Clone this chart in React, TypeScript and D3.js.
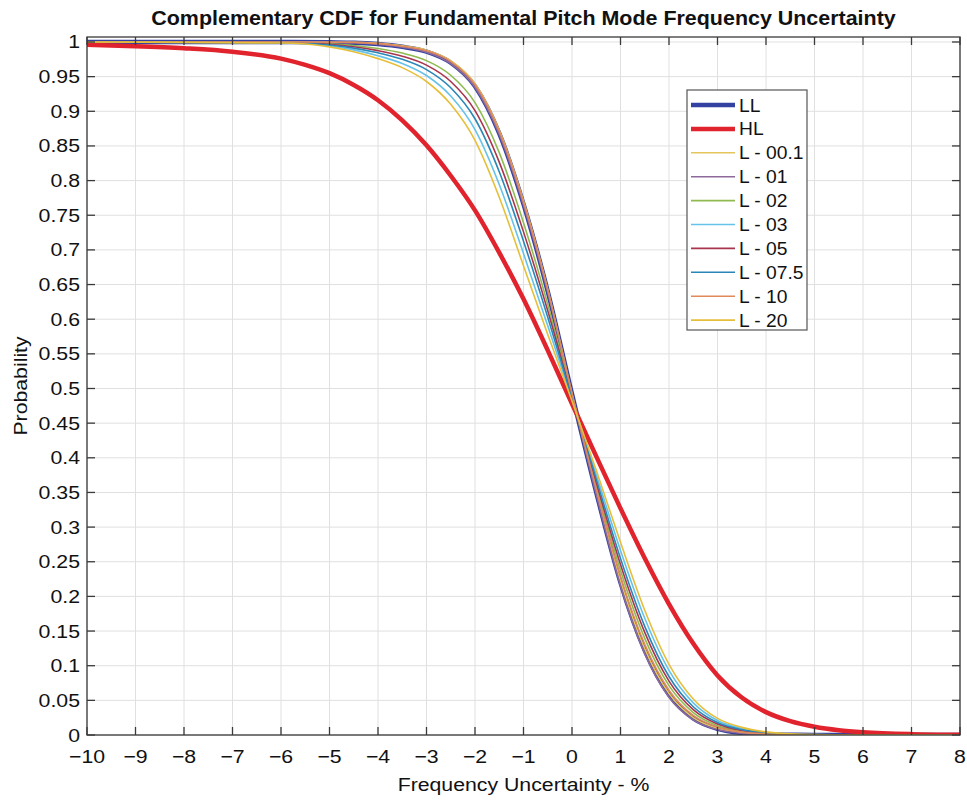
import React from "react";
import * as d3 from "d3";

// ---------- data ----------
const xGrid = [-10, -6, -5, -4.5, -4, -3.5, -3, -2.5, -2, -1.5, -1, -0.5, 0, 0.5, 1, 1.5, 2, 2.5, 3, 3.5, 4, 4.5, 5, 6, 8];

const LL = [1.0, 1.0, 0.9995, 0.999, 0.997, 0.993, 0.986, 0.97, 0.936, 0.868, 0.766, 0.64, 0.492, 0.35, 0.22, 0.122, 0.058, 0.024, 0.009, 0.003, 0.001, 0.0003, 0.0, 0.0, 0.0];
const L001 = [1.0, 1.0, 0.9998, 0.9996, 0.998, 0.9945, 0.9882, 0.973, 0.9399, 0.8726, 0.7705, 0.6431, 0.4925, 0.3513, 0.2223, 0.1243, 0.0598, 0.0251, 0.0096, 0.0033, 0.0011, 0.0004, 0.0001, 0.0, 0.0];
const L01 = [1.0, 1.0, 0.9995, 0.999, 0.9965, 0.9925, 0.9852, 0.9688, 0.9345, 0.8665, 0.7645, 0.6388, 0.4918, 0.3474, 0.2154, 0.1174, 0.0545, 0.0218, 0.0078, 0.0024, 0.0007, 0.0002, 0.0, 0.0, 0.0];
const L02 = [1.0, 0.9996, 0.9975, 0.995, 0.9907, 0.984, 0.9731, 0.952, 0.9126, 0.8404, 0.7393, 0.6214, 0.489, 0.3596, 0.2374, 0.1394, 0.0712, 0.0324, 0.0135, 0.0054, 0.002, 0.0007, 0.0002, 0.0, 0.0];
const L03 = [1.0, 0.9988, 0.9943, 0.9886, 0.9802, 0.969, 0.9516, 0.922, 0.8736, 0.7944, 0.6948, 0.5904, 0.484, 0.3756, 0.2664, 0.1684, 0.0932, 0.0464, 0.021, 0.0094, 0.0038, 0.0014, 0.0005, 0.0, 0.0];
const L05 = [1.0, 0.9993, 0.9966, 0.9931, 0.9875, 0.9795, 0.9666, 0.943, 0.9009, 0.8266, 0.726, 0.6121, 0.4875, 0.3644, 0.2461, 0.1481, 0.0778, 0.0366, 0.0158, 0.0066, 0.0026, 0.0009, 0.0003, 0.0, 0.0];
const L075 = [1.0, 0.9991, 0.9956, 0.9912, 0.9844, 0.975, 0.9602, 0.934, 0.8892, 0.8128, 0.7126, 0.6028, 0.486, 0.3692, 0.2548, 0.1568, 0.0844, 0.0408, 0.018, 0.0078, 0.0031, 0.0011, 0.0004, 0.0, 0.0];
const L10 = [1.0, 1.0, 0.9997, 0.9994, 0.9976, 0.9939, 0.9873, 0.9718, 0.9383, 0.8708, 0.7687, 0.6419, 0.4923, 0.3548, 0.2287, 0.1307, 0.0646, 0.0282, 0.0113, 0.0042, 0.0015, 0.0005, 0.0001, 0.0, 0.0];
const L20 = [1.0, 0.9985, 0.993, 0.986, 0.976, 0.963, 0.943, 0.91, 0.858, 0.776, 0.677, 0.578, 0.482, 0.382, 0.278, 0.18, 0.102, 0.052, 0.024, 0.011, 0.0045, 0.0017, 0.0006, 0.0, 0.0];

const xHL = [-10, -9, -8, -7, -6, -5.5, -5, -4.5, -4, -3.5, -3, -2.5, -2, -1.5, -1, -0.5, 0, 0.5, 1, 1.5, 2, 2.5, 3, 3.5, 4, 4.5, 5, 5.5, 6, 7, 8];
const HL = [0.996, 0.994, 0.991, 0.986, 0.976, 0.967, 0.955, 0.938, 0.916, 0.887, 0.851, 0.807, 0.757, 0.696, 0.629, 0.555, 0.478, 0.402, 0.327, 0.255, 0.189, 0.132, 0.086, 0.054, 0.033, 0.02, 0.012, 0.007, 0.004, 0.0012, 0.0003];

const seriesNames = ["LL", "HL", "L - 00.1", "L - 01", "L - 02", "L - 03", "L - 05", "L - 07.5", "L - 10", "L - 20"];
const xTicks = [-10, -9, -8, -7, -6, -5, -4, -3, -2, -1, 0, 1, 2, 3, 4, 5, 6, 7, 8];
const yTicks = [0, 0.05, 0.1, 0.15, 0.2, 0.25, 0.3, 0.35, 0.4, 0.45, 0.5, 0.55, 0.6, 0.65, 0.7, 0.75, 0.8, 0.85, 0.9, 0.95, 1];

// ---------- styles ----------
const colors: Record<string, string> = {
  "LL": "#3341a3",
  "HL": "#e0232c",
  "L - 00.1": "#e6c65c",
  "L - 01": "#8e6b9c",
  "L - 02": "#8fba4f",
  "L - 03": "#66c2e8",
  "L - 05": "#a8344e",
  "L - 07.5": "#2a86b6",
  "L - 10": "#e08a5c",
  "L - 20": "#e6bf3a",
};
const widths: Record<string, number> = { LL: 4.5, HL: 4.5 };

const W = 967, H = 801;
const left = 87, right = 960, top = 37, bottom = 735;
const FONT = "'Liberation Sans', Arial, Helvetica, sans-serif";

function T(props: {
  x: number; y: number; size: number; anchor?: string; weight?: string; rotate?: number; sx?: number; children: React.ReactNode;
}) {
  const { x, y, size, anchor = "start", weight = "normal", rotate, sx = 1.15, children } = props;
  const tr = `translate(${x},${y})${rotate ? ` rotate(${rotate})` : ""} scale(${sx},1)`;
  return (
    <text transform={tr} textAnchor={anchor} fontSize={size} fontWeight={weight} fill="#111">
      {children}
    </text>
  );
}

export default function App() {
  const x = d3.scaleLinear().domain([-10, 8]).range([left, right]);
  const y = d3.scaleLinear().domain([0, 1.0072]).range([bottom, top]);

  const dataMap: Record<string, [number, number][]> = {
    "LL": xGrid.map((v, i) => [v, LL[i]]),
    "HL": xHL.map((v, i) => [v, HL[i]]),
    "L - 00.1": xGrid.map((v, i) => [v, L001[i]]),
    "L - 01": xGrid.map((v, i) => [v, L01[i]]),
    "L - 02": xGrid.map((v, i) => [v, L02[i]]),
    "L - 03": xGrid.map((v, i) => [v, L03[i]]),
    "L - 05": xGrid.map((v, i) => [v, L05[i]]),
    "L - 07.5": xGrid.map((v, i) => [v, L075[i]]),
    "L - 10": xGrid.map((v, i) => [v, L10[i]]),
    "L - 20": xGrid.map((v, i) => [v, L20[i]]),
  };

  const line = d3
    .line<[number, number]>()
    .x((d) => x(d[0]))
    .y((d) => y(d[1]))
    .curve(d3.curveMonotoneX);

  const fmtX = (v: number) => (v < 0 ? "\u2212" + Math.abs(v) : String(v));
  const fmtY = (v: number) => String(+v.toFixed(2));

  const tickLen = 8;
  const axisColor = "#3a3a3a";
  const gridColor = "#e0e0e0";

  const legX = 687, legY = 90, legW = 120, legH = 240, legStep = 23.9, legFirst = 105;

  return (
    <svg
      width={W}
      height={H}
      style={{ position: "absolute", left: 0, top: 0, background: "#fff" }}
      fontFamily={FONT}
    >
      <rect x={0} y={0} width={W} height={H} fill="#fff" />
      <defs>
        <clipPath id="clip">
          <rect x={left} y={top} width={right - left} height={bottom - top} />
        </clipPath>
      </defs>
      {/* grid */}
      {xTicks.map((t) => (
        <line key={"gx" + t} x1={x(t)} x2={x(t)} y1={top} y2={bottom} stroke={gridColor} strokeWidth={1} />
      ))}
      {yTicks.map((t) => (
        <line key={"gy" + t} x1={left} x2={right} y1={y(t)} y2={y(t)} stroke={gridColor} strokeWidth={1} />
      ))}

      {/* curves */}
      <g clipPath="url(#clip)">
        {seriesNames.map((n) => (
          <path
            key={n}
            d={line(dataMap[n]) || ""}
            fill="none"
            stroke={colors[n]}
            strokeWidth={widths[n] || 1.6}
            strokeLinejoin="round"
            strokeLinecap="round"
          />
        ))}
      </g>

      {/* axes box */}
      <rect x={left} y={top} width={right - left} height={bottom - top} fill="none" stroke={axisColor} strokeWidth={1.3} />
      {xTicks.map((t) => (
        <g key={"tx" + t}>
          <line x1={x(t)} x2={x(t)} y1={bottom} y2={bottom - tickLen} stroke={axisColor} strokeWidth={1.3} />
          <line x1={x(t)} x2={x(t)} y1={top} y2={top + tickLen} stroke={axisColor} strokeWidth={1.3} />
          <T x={x(t)} y={bottom + 28} size={18.5} anchor="middle">
            {fmtX(t)}
          </T>
        </g>
      ))}
      {yTicks.map((t) => (
        <g key={"ty" + t}>
          <line x1={left} x2={left + tickLen} y1={y(t)} y2={y(t)} stroke={axisColor} strokeWidth={1.3} />
          <line x1={right} x2={right - tickLen} y1={y(t)} y2={y(t)} stroke={axisColor} strokeWidth={1.3} />
          <T x={left - 7} y={y(t) + 6.5} size={18.5} anchor="end">
            {fmtY(t)}
          </T>
        </g>
      ))}

      {/* title & labels */}
      <T x={(left + right) / 2} y={25} size={19.5} weight="bold" anchor="middle" sx={1.1}>
        Complementary CDF for Fundamental Pitch Mode Frequency Uncertainty
      </T>
      <T x={(left + right) / 2} y={791} size={18.5} anchor="middle">
        Frequency Uncertainty - %
      </T>
      <T x={27} y={(top + bottom) / 2} size={18.5} anchor="middle" rotate={-90}>
        Probability
      </T>

      {/* legend */}
      <rect x={legX} y={legY} width={legW} height={legH} fill="#fff" stroke="#555" strokeWidth={1.2} />
      {seriesNames.map((n, i) => {
        const ly = legFirst + i * legStep;
        return (
          <g key={"lg" + n}>
            <line x1={691} x2={735} y1={ly} y2={ly} stroke={colors[n]} strokeWidth={widths[n] || 1.6} />
            <T x={739} y={ly + 6.5} size={17.5} sx={1.1}>
              {n}
            </T>
          </g>
        );
      })}
    </svg>
  );
}
